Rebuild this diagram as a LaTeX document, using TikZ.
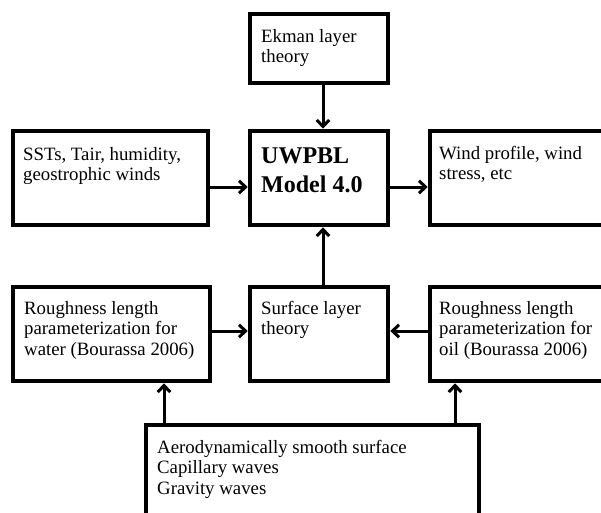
\documentclass[tikz,border=0pt]{standalone}
\usepackage{fontspec}
\setmainfont{Liberation Serif}
\usetikzlibrary{arrows.meta}
\begin{document}
\begin{tikzpicture}[x=1pt,y=-1pt,
  box/.style={draw=black, line width=3.7pt, rectangle, inner sep=0pt},
  txt/.style={anchor=north west, inner sep=0pt, align=left, font=\fontsize{18.8}{20.7}\selectfont},
  btxt/.style={anchor=north west, inner sep=0pt, align=left, font=\fontsize{24}{29}\selectfont\bfseries},
  arr/.style={line width=3pt, -{Straight Barb[length=6.5pt,width=12.5pt]}, shorten >=0.5pt}]
\useasboundingbox (0,0) rectangle (601,512);
\fill[white] (0,0) rectangle (601,512);
\clip (0,0) rectangle (601,512);
% boxes
\node[box, minimum width=138pt, minimum height=69pt] (ek) at (319,48.5) {};
\node[box, minimum width=195pt, minimum height=94pt] (sst) at (110.5,178) {};
\node[box, minimum width=138pt, minimum height=94pt] (mid) at (319,178) {};
\node[box, minimum width=195pt, minimum height=94pt] (wind) at (527.5,178) {};
\node[box, minimum width=197pt, minimum height=94pt] (water) at (111.5,334) {};
\node[box, minimum width=138pt, minimum height=94pt] (surf) at (319,334) {};
\node[box, minimum width=197pt, minimum height=94pt] (oil) at (528.5,334) {};
\node[box, minimum width=333pt, minimum height=105pt] (bot) at (312.5,477.5) {};
% texts
\node[txt] (tek) at (261,27.5) {\strut Ekman layer\\theory};
\node[txt] (tsst) at (23,145.5) {\strut SSTs, Tair, humidity,\\geostrophic winds};
\node[btxt] (tmid) at (261,142.7) {\strut UWPBL\\Model 4.0};
\node[txt] (twind) at (439,144.5) {\strut Wind profile, wind\\stress, etc};
\node[txt] (twater) at (24,299.5) {\strut Roughness length\\parameterization for\\water (Bourassa 2006)};
\node[txt] (tsurf) at (261,299.5) {\strut Surface layer\\theory};
\node[txt] (toil) at (439,299.5) {\strut Roughness length\\parameterization for\\oil (Bourassa 2006)};
\node[txt, font=\fontsize{18.8}{20.5}\selectfont] (tbot) at (157,438.6) {\strut Aerodynamically smooth surface\\Capillary waves\\Gravity waves};
% connectors
\draw[arr] ([xshift=4pt]ek.south) -- ([xshift=4pt]mid.north);
\draw[arr] ([yshift=-9pt]sst.east) -- ([yshift=-9pt]sst.east -| mid.west);
\draw[arr] ([yshift=-9pt]mid.east) -- ([yshift=-9pt]mid.east -| wind.west);
\draw[arr] ([xshift=4pt]surf.north) -- ([xshift=4pt]mid.south);
\draw[arr] ([yshift=3pt]water.east) -- ([yshift=3pt]water.east -| surf.west);
\draw[arr] ([yshift=3pt]oil.west) -- ([yshift=3pt]oil.west -| surf.east);
\draw[arr] ([xshift=-148.5pt]bot.north) -- ([xshift=-148.5pt]bot.north |- water.south);
\draw[arr] ([xshift=142.5pt]bot.north) -- ([xshift=142.5pt]bot.north |- oil.south);
\end{tikzpicture}
\end{document}
